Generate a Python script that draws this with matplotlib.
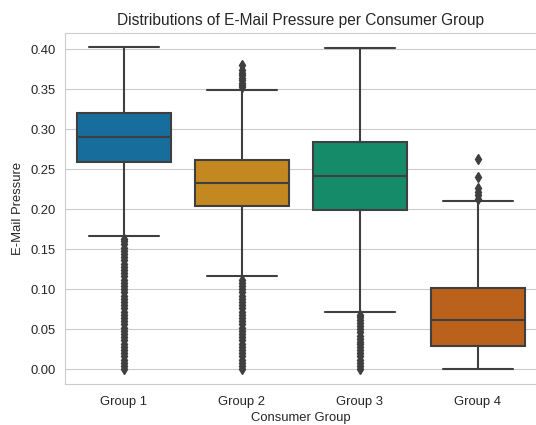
import matplotlib
matplotlib.use("Agg")
import matplotlib.pyplot as plt
import seaborn as sns

# box statistics
groups = ["Group 1", "Group 2", "Group 3", "Group 4"]
q1 = [0.259, 0.204, 0.199, 0.029]
med = [0.290, 0.232, 0.241, 0.061]
q3 = [0.320, 0.261, 0.284, 0.101]
whislo = [0.167, 0.116, 0.072, 0.000]
whishi = [0.402, 0.349, 0.401, 0.210]

# outliers (dense stacks listed by eye)
fliers_1 = [0.000, 0.004, 0.008, 0.012, 0.016, 0.020, 0.024, 0.028, 0.032, 0.036,
            0.040, 0.044, 0.048, 0.052, 0.056, 0.060, 0.064, 0.068, 0.072, 0.076,
            0.080, 0.084, 0.088, 0.092, 0.096, 0.100, 0.104, 0.108, 0.112, 0.116,
            0.120, 0.124, 0.128, 0.132, 0.136, 0.140, 0.144, 0.148, 0.152, 0.156,
            0.160, 0.163]
fliers_2 = [0.000, 0.004, 0.008, 0.012, 0.016, 0.020, 0.024, 0.028, 0.032, 0.036,
            0.040, 0.044, 0.048, 0.052, 0.056, 0.060, 0.064, 0.068, 0.072, 0.076,
            0.080, 0.084, 0.088, 0.092, 0.096, 0.100, 0.104, 0.108, 0.111,
            0.352, 0.355, 0.358, 0.361, 0.364, 0.367, 0.370, 0.374, 0.380]
fliers_3 = [0.000, 0.004, 0.008, 0.012, 0.016, 0.020, 0.024, 0.028, 0.031, 0.034,
            0.038, 0.042, 0.046, 0.050, 0.054, 0.058, 0.062, 0.065, 0.068]
fliers_4 = [0.213, 0.217, 0.221, 0.226, 0.240, 0.263]
fliers = [fliers_1, fliers_2, fliers_3, fliers_4]

sns.set_style("whitegrid")
plt.rcParams["font.family"] = ["Liberation Sans", "DejaVu Sans"]

fig = plt.figure(figsize=(5.36, 4.25), dpi=100)
ax = fig.add_axes([65 / 536, 41 / 425, 472 / 536, 351 / 425])

stats = []
for i in range(len(groups)):
    stats.append(dict(label=groups[i], q1=q1[i], med=med[i], q3=q3[i],
                      whislo=whislo[i], whishi=whishi[i], fliers=fliers[i]))

pal = [sns.desaturate(c, 0.75) for c in sns.color_palette("colorblind", 4)]
line_c = "#3f3f3f"
bp = ax.bxp(stats, positions=range(4), widths=0.8, patch_artist=True,
            boxprops=dict(edgecolor=line_c, linewidth=1.5),
            medianprops=dict(color=line_c, linewidth=1.5),
            whiskerprops=dict(color=line_c, linewidth=1.5),
            capprops=dict(color=line_c, linewidth=1.5),
            flierprops=dict(marker="d", markersize=5, markerfacecolor=line_c,
                            markeredgecolor=line_c, linestyle="none"))
for patch, c in zip(bp["boxes"], pal):
    patch.set_facecolor(c)
for cap in bp["caps"]:
    mid = cap.get_xdata().mean()
    cap.set_xdata([mid - 0.3, mid + 0.3])

ax.set_xlim(-0.5, 3.5)
ax.set_ylim(-0.0185, 0.42)
ax.set_xticks(range(4))
ax.set_xticklabels(groups)
ax.set_yticks([0.0, 0.05, 0.10, 0.15, 0.20, 0.25, 0.30, 0.35, 0.40])
ax.set_yticklabels(["0.00", "0.05", "0.10", "0.15", "0.20", "0.25", "0.30", "0.35", "0.40"])
ax.xaxis.grid(False)
ax.set_title("Distributions of E-Mail Pressure per Consumer Group", fontsize=11.2, pad=6)
ax.set_xlabel("Consumer Group", fontsize=9.4, labelpad=3)
ax.set_ylabel("E-Mail Pressure", fontsize=9.4)
ax.tick_params(labelsize=9.4)
ax.tick_params(axis="x", pad=5)

fig.savefig("out.png", dpi=100)
